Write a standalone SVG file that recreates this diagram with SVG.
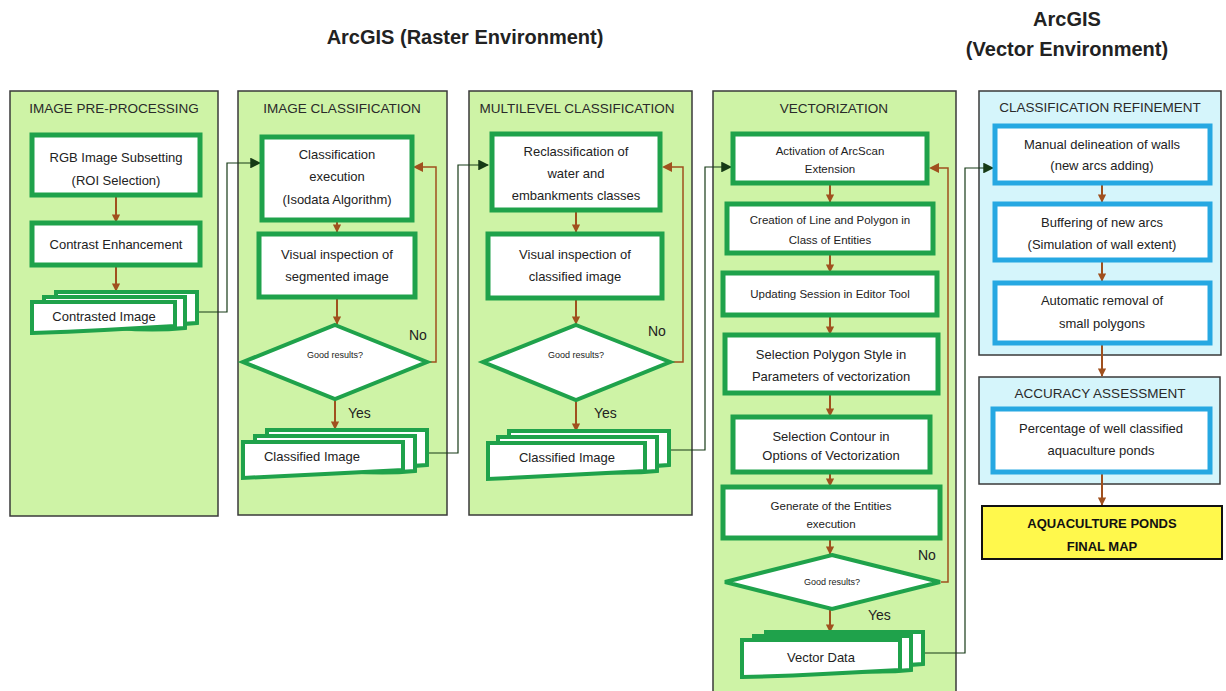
<svg xmlns="http://www.w3.org/2000/svg" width="1226" height="691" viewBox="0 0 1226 691">
  <defs>
    <marker id="ah-brown" viewBox="0 0 10 10" refX="9" refY="5" markerWidth="4.2" markerHeight="4.2" orient="auto" markerUnits="strokeWidth">
      <path d="M0,0 L10,5 L0,10 z" fill="#A0501E"/>
    </marker>
    <marker id="ah-dark" viewBox="0 0 10 10" refX="9" refY="5" markerWidth="9" markerHeight="9" orient="auto" markerUnits="strokeWidth">
      <path d="M0,0 L10,5 L0,10 z" fill="#163a16"/>
    </marker>
  </defs>
  <style>
    text { font-family: "Liberation Sans", Arial, sans-serif; fill: #222; text-anchor: middle; }
    .head { font-size: 20px; font-weight: bold; }
    .ptitle { font-size: 13.5px; fill: #2a2a2a; }
    .lbl { font-size: 13px; }
    .sm { font-size: 11.5px; }
    .tiny { font-size: 9px; }
    .yn { font-size: 14px; text-anchor: start; }
    .final { font-size: 13px; font-weight: bold; fill: #111; }
    .panel { fill: #CEF3A6; stroke: #3a3a3a; stroke-width: 1.5; }
    .bpanel { fill: #D5F5FB; stroke: #3a3a3a; stroke-width: 1.5; }
    .box { fill: #fff; stroke: #1FA24B; stroke-width: 5; }
    .bbox { fill: #fff; stroke: #26A8E2; stroke-width: 5; }
    .dia { fill: #fff; stroke: #1FA24B; stroke-width: 4; }
    .doc { fill: #fff; stroke: #1FA24B; stroke-width: 4; }
    .flow { fill: none; stroke: #A0501E; stroke-width: 2; marker-end: url(#ah-brown); }
    .loop { fill: none; stroke: #A0501E; stroke-width: 1.5; }
    .link { fill: none; stroke: #163a16; stroke-width: 1.2; marker-end: url(#ah-dark); }
    .yellow { fill: #FFF84C; stroke: #111; stroke-width: 2; }
  </style>

  <!-- environment headings -->
  <g id="headings">
    <text class="head" x="465" y="44">ArcGIS (Raster Environment)</text>
    <text class="head" x="1067" y="26">ArcGIS</text>
    <text class="head" x="1067" y="56">(Vector Environment)</text>
  </g>

  <!-- stage panels -->
  <g id="panel-preprocessing">
    <rect class="panel" x="10" y="91" width="208" height="425"/>
    <text class="ptitle" x="114" y="113">IMAGE PRE-PROCESSING</text>
  </g>
  <g id="panel-classification">
    <rect class="panel" x="238" y="91" width="209" height="424"/>
    <text class="ptitle" x="342" y="113">IMAGE CLASSIFICATION</text>
  </g>
  <g id="panel-multilevel">
    <rect class="panel" x="469" y="91" width="223" height="424"/>
    <text class="ptitle" x="577" y="113">MULTILEVEL CLASSIFICATION</text>
  </g>
  <g id="panel-vectorization">
    <rect class="panel" x="713" y="91" width="243" height="610"/>
    <text class="ptitle" x="834" y="113">VECTORIZATION</text>
  </g>
  <g id="panel-refinement">
    <rect class="bpanel" x="979" y="91" width="242" height="264"/>
    <text class="ptitle" x="1100" y="112">CLASSIFICATION REFINEMENT</text>
  </g>
  <g id="panel-accuracy">
    <rect class="bpanel" x="979" y="377" width="241" height="107"/>
    <text class="ptitle" x="1100" y="398">ACCURACY ASSESSMENT</text>
  </g>

  <!-- connectors -->
  <g id="connectors">
    <!-- pre-processing -->
    <line class="flow" x1="116" y1="197" x2="116" y2="222"/>
    <line class="flow" x1="116" y1="267" x2="116" y2="291"/>
    <!-- image classification -->
    <line class="flow" x1="337" y1="222" x2="337" y2="232"/>
    <line class="flow" x1="337" y1="299" x2="337" y2="324"/>
    <line class="flow" x1="335" y1="400" x2="335" y2="429"/>
    <polyline class="loop" points="428,362 436,362 436,167 422,167"/>
    <path d="M413,167 L423,162 L423,172 z" fill="#A0501E"/>
    <!-- multilevel classification -->
    <line class="flow" x1="576" y1="212" x2="576" y2="232"/>
    <line class="flow" x1="576" y1="300" x2="576" y2="324"/>
    <line class="flow" x1="576" y1="401" x2="576" y2="431"/>
    <polyline class="loop" points="671,362 683,362 683,167 671,167"/>
    <path d="M662,167 L672,162 L672,172 z" fill="#A0501E"/>
    <!-- vectorization -->
    <line class="flow" x1="830" y1="185" x2="830" y2="202"/>
    <line class="flow" x1="830" y1="255" x2="830" y2="272"/>
    <line class="flow" x1="830" y1="317" x2="830" y2="334"/>
    <line class="flow" x1="830" y1="395" x2="830" y2="416"/>
    <line class="flow" x1="830" y1="474" x2="830" y2="486"/>
    <line class="flow" x1="830" y1="540" x2="830" y2="554"/>
    <line class="flow" x1="830" y1="610" x2="830" y2="632"/>
    <polyline class="loop" points="941,582 948,582 948,168 938,168"/>
    <path d="M929,168 L939,163 L939,173 z" fill="#A0501E"/>
    <!-- refinement and accuracy -->
    <line class="flow" x1="1102" y1="185" x2="1102" y2="202"/>
    <line class="flow" x1="1102" y1="262" x2="1102" y2="281"/>
    <line class="flow" x1="1102" y1="345" x2="1102" y2="376"/>
    <line class="flow" x1="1102" y1="474" x2="1102" y2="505"/>
    <!-- links between stages -->
    <polyline class="link" points="197,312 227,312 227,163 260,163"/>
    <polyline class="link" points="428,453 458,453 458,165 488,165"/>
    <polyline class="link" points="670,450 705,450 705,167 731,167"/>
    <polyline class="link" points="924,653 965,653 965,168 993,168"/>
  </g>

  <!-- image pre-processing nodes -->
  <g id="rgb-subsetting">
    <rect class="box" x="32" y="135" width="168" height="60"/>
    <text class="lbl" x="116" y="162">RGB Image Subsetting</text>
    <text class="lbl" x="116" y="185">(ROI Selection)</text>
  </g>
  <g id="contrast-enhancement">
    <rect class="box" x="32" y="223" width="168" height="42"/>
    <text class="lbl" x="116" y="249">Contrast Enhancement</text>
  </g>
  <g id="contrasted-image">
    <path class="doc" d="M56,292 H197 V323 Q165,326 130,323 T56,322 Z"/>
    <path class="doc" d="M44,297 H185 V328 Q153,331 118,328 T44,327 Z"/>
    <path class="doc" d="M32,302 H175 V326 Q140,328 104,330 T32,333 Z"/>
    <text class="lbl" x="104" y="321">Contrasted Image</text>
  </g>

  <!-- image classification nodes -->
  <g id="classification-execution">
    <rect class="box" x="262" y="137" width="150" height="83"/>
    <text class="lbl" x="337" y="159">Classification</text>
    <text class="lbl" x="337" y="181">execution</text>
    <text class="lbl" x="337" y="204">(Isodata Algorithm)</text>
  </g>
  <g id="inspect-segmented">
    <rect class="box" x="259" y="234" width="156" height="63"/>
    <text class="lbl" x="337" y="259">Visual inspection of</text>
    <text class="lbl" x="337" y="281">segmented image</text>
  </g>
  <g id="check-classification">
    <polygon class="dia" points="335,325 427,362 335,399 243,362"/>
    <text class="tiny" x="335" y="358">Good results?</text>
    <text class="yn" x="409" y="340">No</text>
    <text class="yn" x="348" y="418">Yes</text>
  </g>
  <g id="classified-image-1">
    <path class="doc" d="M267,430 H427 V465 Q395,468 360,465 T267,464 Z"/>
    <path class="doc" d="M255,436 H415 V471 Q383,474 348,471 T255,470 Z"/>
    <path class="doc" d="M243,442 H403 V470 Q365,472 325,474 T243,478 Z"/>
    <text class="lbl" x="312" y="461">Classified Image</text>
  </g>

  <!-- multilevel classification nodes -->
  <g id="reclassification">
    <rect class="box" x="492" y="134" width="168" height="76"/>
    <text class="lbl" x="576" y="156">Reclassification of</text>
    <text class="lbl" x="576" y="178">water and</text>
    <text class="lbl" x="576" y="200">embankments classes</text>
  </g>
  <g id="inspect-classified">
    <rect class="box" x="488" y="234" width="174" height="64"/>
    <text class="lbl" x="575" y="259">Visual inspection of</text>
    <text class="lbl" x="575" y="281">classified image</text>
  </g>
  <g id="check-multilevel">
    <polygon class="dia" points="576,325 670,362 576,400 483,362"/>
    <text class="tiny" x="576" y="358">Good results?</text>
    <text class="yn" x="648" y="336">No</text>
    <text class="yn" x="594" y="418">Yes</text>
  </g>
  <g id="classified-image-2">
    <path class="doc" d="M509,431 H669 V465 Q637,468 602,465 T509,464 Z"/>
    <path class="doc" d="M498,437 H657 V471 Q625,474 590,471 T498,470 Z"/>
    <path class="doc" d="M488,443 H645 V471 Q607,473 567,475 T488,479 Z"/>
    <text class="lbl" x="567" y="462">Classified Image</text>
  </g>

  <!-- vectorization nodes -->
  <g id="arcscan-activation">
    <rect class="box" x="733" y="134" width="194" height="49"/>
    <text class="sm" x="830" y="155">Activation of ArcScan</text>
    <text class="sm" x="830" y="173">Extension</text>
  </g>
  <g id="line-polygon-creation">
    <rect class="box" x="727" y="204" width="206" height="49"/>
    <text class="sm" x="830" y="224">Creation of Line and Polygon in</text>
    <text class="sm" x="830" y="244">Class of Entities</text>
  </g>
  <g id="editor-session">
    <rect class="box" x="723" y="273" width="214" height="42"/>
    <text class="sm" x="830" y="298">Updating Session in Editor Tool</text>
  </g>
  <g id="polygon-style">
    <rect class="box" x="725" y="335" width="213" height="58"/>
    <text class="lbl" x="831" y="359">Selection Polygon Style in</text>
    <text class="lbl" x="831" y="381">Parameters of vectorization</text>
  </g>
  <g id="contour-selection">
    <rect class="box" x="733" y="417" width="197" height="55"/>
    <text class="lbl" x="831" y="441">Selection Contour in</text>
    <text class="lbl" x="831" y="460">Options of Vectorization</text>
  </g>
  <g id="generate-entities">
    <rect class="box" x="723" y="487" width="217" height="51"/>
    <text class="sm" x="831" y="510">Generate of the Entities</text>
    <text class="sm" x="831" y="528">execution</text>
  </g>
  <g id="check-vectorization">
    <polygon class="dia" points="832,555 940,582 832,609 725,582"/>
    <text class="tiny" x="832" y="585">Good results?</text>
    <text class="yn" x="918" y="560">No</text>
    <text class="yn" x="868" y="620">Yes</text>
  </g>
  <g id="vector-data">
    <path class="doc" d="M766,632 H923 V664 Q892,667 858,664 T766,663 Z"/>
    <path class="doc" d="M754,636 H911 V670 Q880,673 846,670 T754,669 Z"/>
    <path class="doc" d="M742,640 H900 V670 Q862,672 823,674 T742,677 Z"/>
    <text class="lbl" x="821" y="662">Vector Data</text>
  </g>

  <!-- refinement nodes -->
  <g id="wall-delineation">
    <rect class="bbox" x="995" y="126" width="215" height="57"/>
    <text class="lbl" x="1102" y="149">Manual delineation of walls</text>
    <text class="lbl" x="1102" y="170">(new arcs adding)</text>
  </g>
  <g id="arc-buffering">
    <rect class="bbox" x="995" y="204" width="215" height="56"/>
    <text class="lbl" x="1102" y="227">Buffering of new arcs</text>
    <text class="lbl" x="1102" y="249">(Simulation of wall extent)</text>
  </g>
  <g id="polygon-removal">
    <rect class="bbox" x="995" y="283" width="215" height="60"/>
    <text class="lbl" x="1102" y="305">Automatic removal of</text>
    <text class="lbl" x="1102" y="328">small polygons</text>
  </g>
  <g id="well-classified">
    <rect class="bbox" x="993" y="409" width="217" height="63"/>
    <text class="lbl" x="1101" y="433">Percentage of well classified</text>
    <text class="lbl" x="1101" y="455">aquaculture ponds</text>
  </g>
  <g id="final-map">
    <rect class="yellow" x="982" y="506" width="240" height="53"/>
    <text class="final" x="1102" y="528">AQUACULTURE PONDS</text>
    <text class="final" x="1102" y="551">FINAL MAP</text>
  </g>
</svg>
